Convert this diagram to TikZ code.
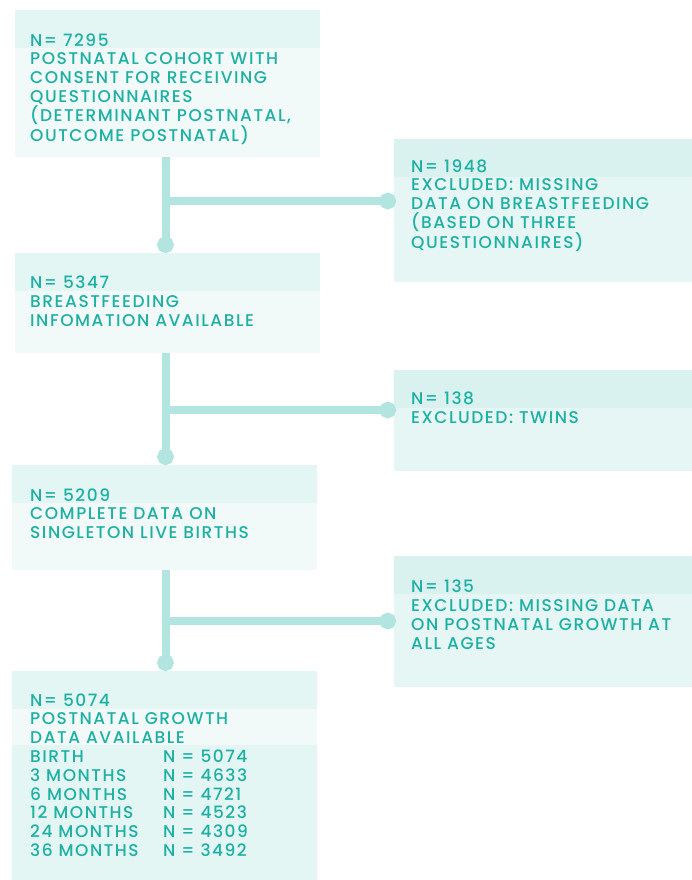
\documentclass[tikz,border=0pt]{standalone}
\usepackage{fontspec}
\setmainfont{Poppins}[UprightFont={* Medium}, LetterSpace=9]
\usetikzlibrary{arrows.meta}
\definecolor{ink}{HTML}{1DB0A3}
\definecolor{linkc}{HTML}{B3E5E0}
\definecolor{fillL}{HTML}{F1FAF9}
\definecolor{stripL}{HTML}{E3F6F4}
\definecolor{fillR}{HTML}{E5F6F4}
\definecolor{stripR}{HTML}{D9F2EF}
\tikzset{
	box/.style={anchor=north west, inner sep=0pt, minimum width=305pt, fill=fillL},
	xbox/.style={anchor=north west, inner sep=0pt, minimum width=298pt, fill=fillR},
	txt/.style={anchor=north west, inner sep=0pt, align=left, text=ink,
		font=\fontsize{17}{18.8}\selectfont},
	link/.style={draw=linkc, line width=8pt, -{Circle[length=16.5pt,width=16.5pt]}}
}
\begin{document}
\begin{tikzpicture}[x=1pt,y=-1pt]
\useasboundingbox (0,0) rectangle (692,880);
% left column
\node[box, minimum height=147pt, name=b1] at (15,10){};
\node[box, minimum height=100pt, name=b2] at (15,253){};
\node[box, minimum height=105pt, name=b3] at (12,465){};
\node[box, minimum height=209pt, fill=stripL, name=b4] at (12,671){};
\foreach \b/\h in {b1/38,b2/38,b3/38}{
	\fill[stripL] (\b.north west) rectangle ([yshift=-\h pt]\b.north east);
};
\fill[fillL] ([yshift=-38pt]b4.north west) rectangle ([yshift=-74pt]b4.north east);
% right column
\node[xbox, minimum height=143pt, name=x1] at (394,139){};
\node[xbox, minimum height=101pt, name=x2] at (394,370){};
\node[xbox, minimum height=131pt, name=x3] at (394,556){};
\foreach \b in {x1,x2,x3}{
	\fill[stripR] (\b.north west) rectangle ([yshift=-38pt]\b.north east);
};
% texts
\node[txt, name=t1] at (30,33.3){N= 7295\\POSTNATAL COHORT WITH\\CONSENT FOR RECEIVING\\QUESTIONNAIRES\\(DETERMINANT POSTNATAL,\\OUTCOME POSTNATAL)};
\node[txt, name=t2] at (30,276){N= 5347\\BREASTFEEDING\\INFOMATION AVAILABLE};
\node[txt, name=t3] at (30,488.3){N= 5209\\COMPLETE DATA ON\\SINGLETON LIVE BIRTHS};
\node[txt, name=t4] at (30,693.3){N= 5074\\POSTNATAL GROWTH\\DATA AVAILABLE\\
	\makebox[133pt][l]{BIRTH}N = 5074\\
	\makebox[133pt][l]{3 MONTHS}N = 4633\\
	\makebox[133pt][l]{6 MONTHS}N = 4721\\
	\makebox[133pt][l]{12 MONTHS}N = 4523\\
	\makebox[133pt][l]{24 MONTHS}N = 4309\\
	\makebox[133pt][l]{36 MONTHS}N = 3492};
\node[txt, name=u1] at (411,159.3){N= 1948\\EXCLUDED: MISSING\\DATA ON BREASTFEEDING\\(BASED ON THREE\\QUESTIONNAIRES)};
\node[txt, name=u2] at (411,391.7){N= 138\\EXCLUDED: TWINS};
\node[txt, name=u3] at (411,580){N= 135\\EXCLUDED: MISSING DATA\\ON POSTNATAL GROWTH AT\\ALL AGES};
% connectors
\coordinate (spine) at (165.5,0);
\foreach \a/\b/\x/\y in {b1/b2/x1/201,b2/b3/x2/410,b3/b4/x3/621}{
	\coordinate (k\x) at (165.5,\y);
	\draw[link] (\a.south -| spine)--(\b.north -| spine);
	\draw[link] (k\x)--([xshift=2pt]k\x -| \x.west);
};
\end{tikzpicture}
\end{document}
